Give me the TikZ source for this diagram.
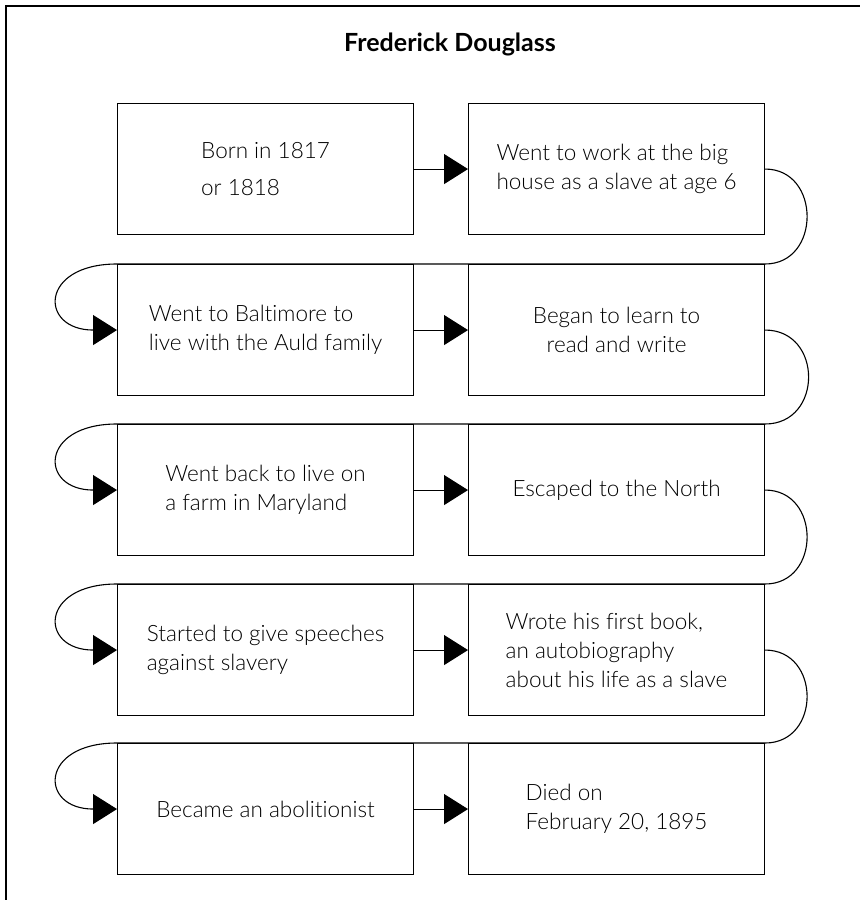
\documentclass[tikz,border=0pt]{standalone}
\usepackage{fontspec}
\setmainfont{Lato}[UprightFont=* Light, BoldFont=* Bold, Ligatures=NoCommon]
\usetikzlibrary{arrows.meta}
\begin{document}
\begin{tikzpicture}[x=1pt,y=-1pt,
  evbox/.style={draw, line width=1.1pt, minimum width=296pt, minimum height=131pt,
    inner sep=0pt, anchor=north west, align=left,
    font=\fontsize{22.5}{29}\selectfont},
  link/.style={line width=1.1pt, -{Triangle[length=24pt,width=30pt]}},
  framestyle/.style={line width=2.2pt}]
\useasboundingbox (0,0) rectangle (860,900);
\draw[framestyle] (6,900) -- (6,6) -- (860,6);
\node[anchor=base, font=\fontsize{25}{30}\selectfont\bfseries] (title) at (450,51) {Frederick Douglass};
% row 1
\node[evbox] (b1) at (117,103) {Born in 1817\\[8pt]or 1818};
\node[evbox] (b2) at (468,103) {Went to work at the big\\house as a slave at age 6};
% row 2
\node[evbox] (b3) at (117,264) {Went to Baltimore to\\live with the Auld family};
\node[evbox, align=center] (b4) at (468,264) {Began to learn to\\read and write};
% row 3
\node[evbox] (b5) at (117,424) {Went back to live on\\a farm in Maryland};
\node[evbox] (b6) at (468,424) {Escaped to the North};
% row 4
\node[evbox] (b7) at (117,584) {Started to give speeches\\against slavery};
\node[evbox] (b8) at (468,584) {Wrote his first book,\\an autobiography\\about his life as a slave};
% row 5
\node[evbox] (b9) at (117,743) {Became an abolitionist};
\node[evbox] (b10) at (468,743) {Died on\\February 20, 1895};
% connectors
\draw[link] (b1.east) -- (b2.west);
\draw[link] (b2.east) .. controls +(56,0) and +(56,0) .. (b4.north east) -- (b3.north west)
  .. controls +(-78,0) and +(-78,0) .. (b3.west);
\draw[link] (b3.east) -- (b4.west);
\draw[link] (b4.east) .. controls +(58,0) and +(58,0) .. (b6.north east) -- (b5.north west)
  .. controls +(-78,0) and +(-78,0) .. (b5.west);
\draw[link] (b5.east) -- (b6.west);
\draw[link] (b6.east) .. controls +(56,0) and +(56,0) .. (b8.north east) -- (b7.north west)
  .. controls +(-78,0) and +(-78,0) .. (b7.west);
\draw[link] (b7.east) -- (b8.west);
\draw[link] (b8.east) .. controls +(56,0) and +(56,0) .. (b10.north east) -- (b9.north west)
  .. controls +(-78,0) and +(-78,0) .. (b9.west);
\draw[link] (b9.east) -- (b10.west);
\end{tikzpicture}
\end{document}
